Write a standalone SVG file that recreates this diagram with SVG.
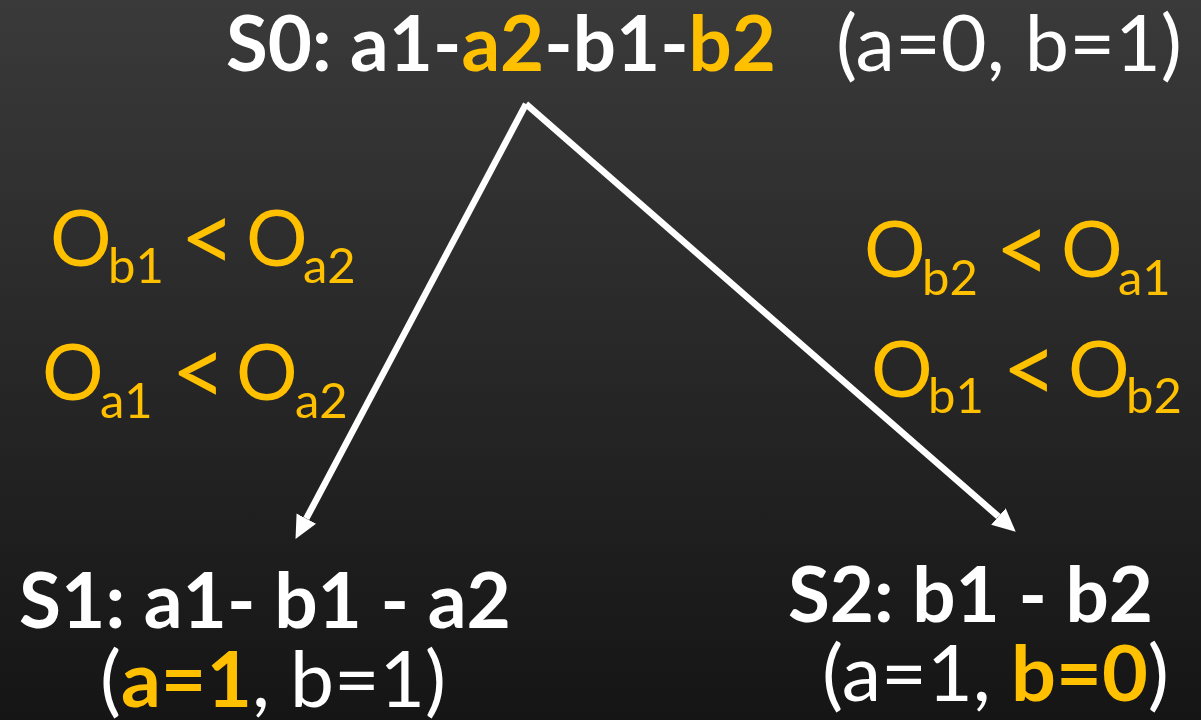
<svg xmlns="http://www.w3.org/2000/svg" width="1201" height="720" viewBox="0 0 1201 720">
<defs>
<linearGradient id="bg" x1="0" y1="0" x2="0" y2="1">
<stop offset="0" stop-color="#3a3a3a"/>
<stop offset="1" stop-color="#151515"/>
</linearGradient>
<marker id="head" markerUnits="userSpaceOnUse" markerWidth="24" markerHeight="24" refX="0" refY="11" orient="auto" viewBox="0 0 24 22">
<path d="M0,0 L23,11 L0,22 z" fill="#ffffff"/>
</marker>
<style>
.t{font-family:Lato,"Open Sans","Liberation Sans",sans-serif;fill:#ffffff}
.b{font-weight:bold}
.g{fill:#FFC000}
.big{font-size:77px}
.lt{font-size:96px}
.sub{font-size:49px}
.edge{stroke:#ffffff;stroke-width:6.5;fill:none;marker-end:url(#head)}
</style>
</defs>
<rect x="0" y="0" width="1201" height="720" fill="url(#bg)"/>

<g id="connectors">
<line class="edge" x1="526" y1="104" x2="306.3" y2="518.6"/>
<line class="edge" x1="526" y1="104" x2="998.4" y2="516.5"/>
</g>

<g id="S0">
<text class="t b big" x="226" y="71" textLength="550" lengthAdjust="spacingAndGlyphs">S0: a1-<tspan class="g">a2</tspan>-b1-<tspan class="g">b2</tspan></text>
<text class="t big" x="836" y="71" textLength="346" lengthAdjust="spacingAndGlyphs">(a=0, b=1)</text>
</g>

<g id="S1">
<text class="t b big" x="19" y="628" textLength="492" lengthAdjust="spacingAndGlyphs">S1: a1- b1 - a2</text>
<text class="t big" x="100" y="707" textLength="346" lengthAdjust="spacingAndGlyphs">(<tspan class="g b">a=1</tspan>, b=1)</text>
</g>

<g id="S2">
<text class="t b big" x="788" y="622" textLength="365" lengthAdjust="spacingAndGlyphs">S2: b1 - b2</text>
<text class="t big" x="822" y="701" textLength="347" lengthAdjust="spacingAndGlyphs">(a=1, <tspan class="g b">b=0</tspan>)</text>
</g>

<g id="cond-left">
<text class="t g big" x="50" y="266">O</text>
<text class="t g sub" x="108" y="283">b1</text>
<text class="t g lt" x="180" y="272">&lt;</text>
<text class="t g big" x="246" y="266">O</text>
<text class="t g sub" x="303" y="283">a2</text>
<text class="t g big" x="42" y="400">O</text>
<text class="t g sub" x="100" y="418">a1</text>
<text class="t g lt" x="171" y="406">&lt;</text>
<text class="t g big" x="236" y="400">O</text>
<text class="t g sub" x="295" y="418">a2</text>
</g>

<g id="cond-right">
<text class="t g big" x="864" y="277">O</text>
<text class="t g sub" x="922" y="295">b2</text>
<text class="t g lt" x="995" y="283">&lt;</text>
<text class="t g big" x="1061" y="277">O</text>
<text class="t g sub" x="1118" y="295">a1</text>
<text class="t g big" x="871" y="397">O</text>
<text class="t g sub" x="928" y="413">b1</text>
<text class="t g lt" x="1002" y="403">&lt;</text>
<text class="t g big" x="1068" y="397">O</text>
<text class="t g sub" x="1126" y="413">b2</text>
</g>
</svg>
